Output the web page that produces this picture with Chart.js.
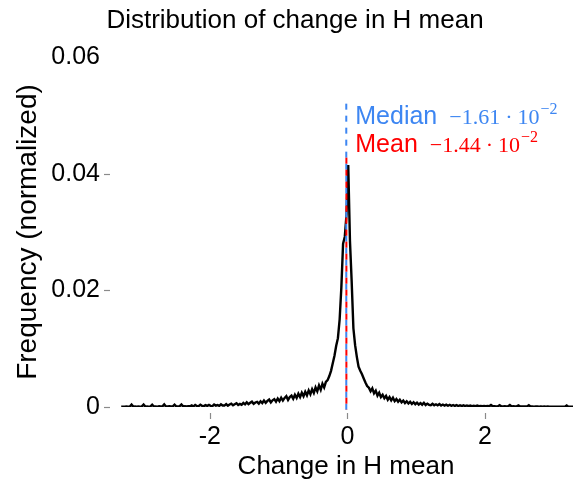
<!DOCTYPE html>
<html><head><meta charset="utf-8">
<script src="https://cdn.jsdelivr.net/npm/chart.js@4.4.0/dist/chart.umd.min.js"></script>
<style>html,body{margin:0;padding:0;background:#fff;}</style>
</head><body>
<canvas id="c" width="574" height="486"></canvas>
<script>
// ---- data ----
const binStart = -3.2875;   // centre of first bin
const binWidth = 0.025;
const frequency = [
 0.00004,0.00006,0.00005,0.00008,0.00005,0.00007,0.00040,0.00006,0.00009,0.00005,
 0.00008,0.00006,0.00010,0.00042,0.00007,0.00009,0.00006,0.00011,0.00038,0.00008,
 0.00010,0.00007,0.00012,0.00009,0.00011,0.00045,0.00010,0.00008,0.00013,0.00010,
 0.00011,0.00040,0.00012,0.00009,0.00014,0.00042,0.00011,0.00013,0.00010,0.00015,
 0.00012,0.00028,0.00010,0.00034,0.00016,0.00014,0.00040,0.00020,0.00015,0.00032,
 0.00018,0.00036,0.00020,0.00015,0.00042,0.00024,0.00034,0.00019,0.00045,0.00026,
 0.00025,0.00050,0.00022,0.00042,0.00058,0.00030,0.00048,0.00065,0.00035,0.00052,
 0.00038,0.00070,0.00045,0.00080,0.00048,0.00072,0.00092,0.00055,0.00078,0.00088,
 0.00058,0.00098,0.00068,0.00110,0.00072,0.00105,0.00128,0.00078,0.00115,0.00135,
 0.00090,0.00145,0.00100,0.00160,0.00110,0.00155,0.00185,0.00120,0.00170,0.00195,
 0.00140,0.00210,0.00155,0.00228,0.00170,0.00245,0.00185,0.00262,0.00200,0.00285,
 0.00220,0.00305,0.00240,0.00335,0.00270,0.00370,0.00295,0.00400,0.00335,0.00430,
 0.00460,0.00530,0.00620,0.00750,0.00880,0.01050,0.01180,0.01500,0.02050,0.02800,
 0.02920,0.03300,
 0.04150,0.02850,
 0.02150,0.01350,0.01060,0.00860,0.00690,0.00620,0.00560,0.00490,0.00420,0.00360,
 0.00330,0.00270,0.00320,0.00235,0.00280,0.00195,0.00245,0.00170,0.00210,0.00150,
 0.00190,0.00125,0.00170,0.00115,0.00160,0.00100,0.00135,0.00090,0.00125,0.00080,
 0.00110,0.00068,0.00098,0.00060,0.00090,0.00052,0.00082,0.00048,0.00075,0.00042,
 0.00068,0.00040,0.00072,0.00035,0.00058,0.00038,0.00030,0.00056,0.00030,0.00046,
 0.00028,0.00050,0.00026,0.00042,0.00024,0.00040,0.00022,0.00038,0.00020,0.00034,
 0.00018,0.00032,0.00017,0.00030,0.00016,0.00028,0.00015,0.00026,0.00014,0.00024,
 0.00016,0.00020,0.00015,0.00024,0.00014,0.00018,0.00013,0.00017,0.00014,0.00016,
 0.00013,0.00035,0.00012,0.00015,0.00011,0.00014,0.00030,0.00012,0.00010,0.00013,
 0.00011,0.00012,0.00035,0.00010,0.00012,0.00009,0.00011,0.00028,0.00010,0.00009,
 0.00010,0.00008,0.00009,0.00030,0.00008,0.00010,0.00007,0.00009,0.00008,0.00007,
 0.00008,0.00006,0.00008,0.00007,0.00009,0.00006,0.00007,0.00005,0.00007,0.00006,
 0.00006,0.00005,0.00007,0.00005,0.00006,0.00025,0.00005,0.00006,0.00004,0.00005
];
const medianValue = -0.0161;
const meanValue = -0.0144;
const medianLineTop = 0.052;
const meanLineTop = 0.0436;
const lineBottom = -0.0005;
const xRange = [-3.32, 3.28];
const yRange = [0, 0.06];
const xTickValues = [-2, 0, 2];
const xTickLabels = ['-2', '0', '2'];
const yTickValues = [0, 0.02, 0.04, 0.06];
const yTickLabels = ['0', '0.02', '0.04', '0.06'];
const yTickMarks = [0, 0.02, 0.04];
const chartTitle = 'Distribution of change in H mean';
const medianText = {word: 'Median', num: '\u22121.61', base: '10', exp: '\u22122'};
const meanText = {word: 'Mean', num: '\u22121.44', base: '10', exp: '\u22122'};

const medianColor = '#3d86f2';
const meanColor = '#ff0000';
const SANS = '"Liberation Sans", Arial, sans-serif';
const SERIF = '"Liberation Serif", "Times New Roman", serif';

const histPoints = frequency.map((f, i) => ({x: binStart + i * binWidth, y: f}));

const tickMarkPlugin = {
  id: 'tickMarks',
  afterDraw(chart) {
    const ctx = chart.ctx, xs = chart.scales.x, ys = chart.scales.y, a = chart.chartArea;
    ctx.save();
    ctx.strokeStyle = '#8a8a8a';
    ctx.lineWidth = 1.2;
    yTickMarks.forEach(v => {
      const py = Math.round(ys.getPixelForValue(v)) + 0.5;
      ctx.beginPath(); ctx.moveTo(a.left - 15, py); ctx.lineTo(a.left - 9, py); ctx.stroke();
    });
    xTickValues.forEach(v => {
      const px = Math.round(xs.getPixelForValue(v)) + 0.5;
      ctx.beginPath(); ctx.moveTo(px, a.bottom + 6); ctx.lineTo(px, a.bottom + 12); ctx.stroke();
    });
    // chart title
    ctx.fillStyle = '#000';
    ctx.font = '26px ' + SANS;
    ctx.textAlign = 'center';
    ctx.textBaseline = 'alphabetic';
    ctx.fillText(chartTitle, 295, 28);
    ctx.restore();
  }
};

function drawLabel(ctx, x, baseline, t, color) {
  ctx.fillStyle = color;
  ctx.textBaseline = 'alphabetic';
  ctx.textAlign = 'left';
  ctx.font = '25px ' + SANS;
  ctx.fillText(t.word, x, baseline);
  let mx = x + ctx.measureText(t.word).width + 12;
  ctx.font = '22px ' + SERIF;
  ctx.fillText(t.num, mx, baseline);
  mx += ctx.measureText(t.num).width + 5;
  ctx.fillText('\u00b7', mx, baseline);
  mx += ctx.measureText('\u00b7').width + 5;
  ctx.fillText(t.base, mx, baseline);
  mx += ctx.measureText(t.base).width + 1;
  ctx.font = '16px ' + SERIF;
  ctx.fillText(t.exp, mx, baseline - 10);
}

const annotationPlugin = {
  id: 'statLabels',
  afterDatasetsDraw(chart) {
    const ctx = chart.ctx, xs = chart.scales.x;
    const x0 = xs.getPixelForValue(medianValue) + 9;
    ctx.save();
    drawLabel(ctx, x0, 124, medianText, medianColor);
    drawLabel(ctx, x0, 152, meanText, meanColor);
    ctx.restore();
  }
};

new Chart(document.getElementById('c'), {
  type: 'scatter',
  data: {
    datasets: [
      {
        data: histPoints, showLine: true, borderColor: '#000', borderWidth: 2.4,
        pointRadius: 0, tension: 0, fill: false, order: 3
      },
      {
        data: [{x: medianValue, y: medianLineTop}, {x: medianValue, y: lineBottom}],
        showLine: true, borderColor: medianColor, borderWidth: 2, borderDash: [6, 6],
        pointRadius: 0, clip: false, order: 2
      },
      {
        data: [{x: meanValue, y: meanLineTop}, {x: meanValue, y: lineBottom}],
        showLine: true, borderColor: meanColor, borderWidth: 2, borderDash: [6, 6],
        borderDashOffset: 7, pointRadius: 0, clip: false, order: 1
      }
    ]
  },
  options: {
    responsive: false,
    animation: false,
    devicePixelRatio: 1,
    layout: {padding: {left: 0, right: 1, top: 57, bottom: 0}},
    plugins: {
      legend: {display: false},
      tooltip: {enabled: false},
      title: {display: false}
    },
    scales: {
      x: {
        type: 'linear', min: xRange[0], max: xRange[1],
        grid: {display: false, drawTicks: false},
        border: {display: false},
        afterBuildTicks(s) { s.ticks = xTickValues.map(v => ({value: v})); },
        afterFit(s) { s.height = 79; },
        ticks: {
          color: '#000', padding: 15, maxRotation: 0,
          font: {family: SANS, size: 25},
          callback: (v) => xTickLabels[xTickValues.indexOf(v)]
        },
        title: {
          display: true, text: 'Change in H mean', color: '#000',
          font: {family: SANS, size: 26}, padding: {top: 0, bottom: 4}
        }
      },
      y: {
        type: 'linear', min: yRange[0], max: yRange[1],
        grid: {display: false, drawTicks: false},
        border: {display: false},
        afterBuildTicks(s) { s.ticks = yTickValues.map(v => ({value: v})); },
        afterFit(s) { s.width = 119; },
        ticks: {
          color: '#000', padding: 19,
          font: {family: SANS, size: 25},
          callback: (v) => yTickLabels[yTickValues.indexOf(v)]
        },
        title: {
          display: true, text: 'Frequency (normalized)', color: '#000',
          font: {family: SANS, size: 28}, padding: {top: 11, bottom: 0}
        }
      }
    }
  },
  plugins: [tickMarkPlugin, annotationPlugin]
});
</script>
</body></html>
